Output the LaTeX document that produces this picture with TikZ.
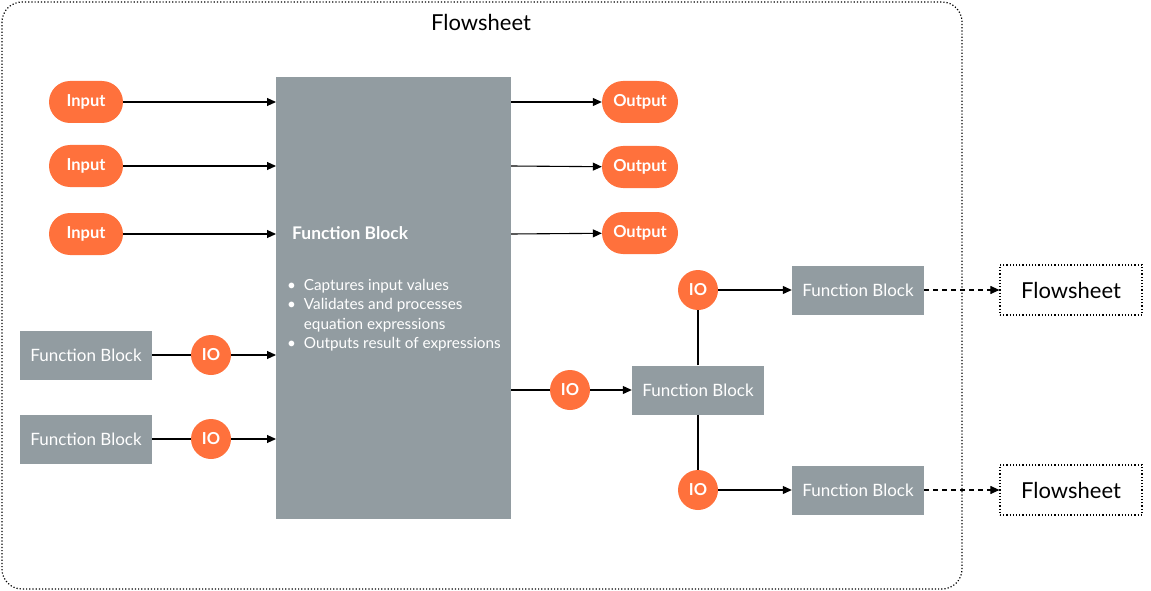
\documentclass[tikz,border=0pt]{standalone}
\usepackage{fontspec}
\setmainfont{Lato}
\usetikzlibrary{arrows.meta}
\definecolor{og}{HTML}{FF713C}
\definecolor{gb}{HTML}{929CA1}
\begin{document}
\begin{tikzpicture}[x=1pt,y=-1pt,
  pill/.style={fill=og,rounded corners=21pt,minimum width=74pt,minimum height=42pt,text=white,font=\fontsize{16.5}{18}\selectfont\bfseries,inner sep=0pt},
  io/.style={circle,fill=og,minimum size=40pt,inner sep=0pt,text=white,font=\fontsize{16.5}{18}\selectfont\bfseries},
  fb/.style={fill=gb,minimum width=132pt,minimum height=49pt,inner sep=0pt,text=white,font=\fontsize{17}{19}\selectfont},
  fs/.style={draw,dash pattern=on 1.2pt off 2pt,line width=1.2pt,minimum width=142pt,minimum height=50pt,inner sep=0pt,font=\fontsize{22}{24}\selectfont},
  arr/.style={-{Triangle[length=9pt,width=8pt]},line width=1.1pt},
  ln/.style={line width=1.1pt}]
\useasboundingbox (0,0) rectangle (1151,591);
\draw[dash pattern=on 1.2pt off 2pt,line width=1.2pt,rounded corners=20pt] (2,2) rectangle (962,589);
\node[font=\fontsize{22}{24}\selectfont] (title) at (481,22) {Flowsheet};
\node[fill=gb,minimum width=235pt,minimum height=442pt,inner sep=0pt,anchor=north west] (main) at (276,77) {};
\node[anchor=west,inner sep=0pt,text=white,font=\fontsize{17.4}{19}\selectfont\bfseries] (mt) at (292,233) {Function Block};
\node[anchor=north west,text=white,font=\fontsize{15.3}{19.5}\selectfont,align=left,inner sep=0pt] (bl) at (287,279)
 {\textbullet\ \ Captures input values\\\textbullet\ \ Validates and processes\\\hphantom{\textbullet\ \ }equation expressions\\\textbullet\ \ Outputs result of expressions};
\foreach \n/\y in {1/102,2/166,3/234}{
  \node[pill] (in\n) at (86,\y) {Input};
  \coordinate (mi\n) at (276,\y);
  \draw[arr] (in\n) -- (mi\n);
}
\foreach \n/\y/\z in {1/102/102,2/166/167,3/234/233}{
  \node[pill,minimum width=76pt] (out\n) at (640,\z) {Output};
  \coordinate (mo\n) at (511,\y);
  \draw[arr] (mo\n) -- (out\n);
}
\foreach \n/\y in {1/355,2/439}{
  \node[fb] (lf\n) at (86,\y) {Function Block};
  \node[io] (lio\n) at (211,\y) {IO};
  \coordinate (ml\n) at (276,\y);
  \draw[ln] (lf\n) -- (lio\n);
  \draw[arr] (lio\n) -- (ml\n);
}
\coordinate (mr) at (511,390);
\node[io] (rio) at (570,390) {IO};
\node[fb] (cf) at (698,390) {Function Block};
\draw[ln] (mr) -- (rio);
\draw[arr] (rio) -- (cf);
\foreach \n/\y in {1/290,2/490}{
  \node[io] (tio\n) at (698,\y) {IO};
  \draw[ln] (cf) -- (tio\n);
  \node[fb] (rf\n) at (858,\y) {Function Block};
  \draw[arr] (tio\n) -- (rf\n);
  \node[fs] (fs\n) at (1071,\y) {Flowsheet};
  \draw[arr,dash pattern=on 5pt off 4pt] (rf\n) -- (fs\n);
}
\end{tikzpicture}
\end{document}
